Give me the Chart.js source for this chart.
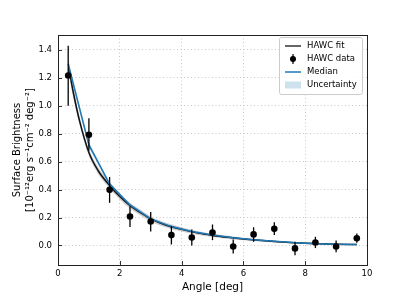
<!DOCTYPE html>
<html>
<head>
<meta charset="utf-8">
<script src="https://cdn.jsdelivr.net/npm/chart.js@4"></script>
<style>
  body { margin: 0; background: #fff; }
  canvas { display: block; }
</style>
</head>
<body>
<canvas id="chart" width="399" height="299"></canvas>
<script>
// HAWC data points (angle in deg, surface brightness)
const angles = [0.33, 1.0, 1.67, 2.33, 3.0, 3.67, 4.33, 5.0, 5.67, 6.33, 7.0, 7.67, 8.33, 9.0, 9.67];
const brightness = [1.217, 0.793, 0.398, 0.207, 0.171, 0.074, 0.057, 0.093, -0.007, 0.079, 0.119, -0.021, 0.021, -0.007, 0.052];
const errHigh = [1.43, 0.91, 0.49, 0.28, 0.24, 0.14, 0.115, 0.15, 0.043, 0.13, 0.167, 0.026, 0.062, 0.036, 0.086];
const errLow = [1.00, 0.68, 0.305, 0.133, 0.10, 0.007, 0.0, 0.038, -0.057, 0.026, 0.074, -0.071, -0.019, -0.048, 0.019];

// HAWC fit curve + grey band
const fitX = [0.35, 0.5, 0.7, 1.0, 1.3, 1.67, 2.0, 2.33, 2.67, 3.0, 3.5, 4.0, 4.5, 5.0, 5.5, 6.0, 6.5, 7.0, 7.5, 8.0, 8.5, 9.0, 9.67];
const fitY = [1.27, 1.09, 0.89, 0.665, 0.535, 0.43, 0.35, 0.285, 0.235, 0.19, 0.145, 0.115, 0.09, 0.072, 0.058, 0.046, 0.037, 0.029, 0.022, 0.016, 0.012, 0.009, 0.006];
const fitLow = [1.22, 1.05, 0.86, 0.64, 0.51, 0.408, 0.328, 0.265, 0.215, 0.172, 0.128, 0.099, 0.076, 0.06, 0.047, 0.037, 0.029, 0.022, 0.016, 0.011, 0.008, 0.006, 0.004];
const fitHigh = [1.32, 1.13, 0.92, 0.69, 0.56, 0.455, 0.372, 0.305, 0.255, 0.208, 0.162, 0.131, 0.104, 0.084, 0.069, 0.055, 0.045, 0.036, 0.028, 0.021, 0.016, 0.012, 0.008];

// median model + uncertainty
const medY = [1.30, 0.72, 0.44, 0.29, 0.19, 0.135, 0.10, 0.075, 0.055, 0.04, 0.03, 0.02, 0.013, 0.009, 0.006];
const medLow = [1.27, 0.70, 0.425, 0.28, 0.183, 0.129, 0.095, 0.071, 0.052, 0.037, 0.028, 0.018, 0.011, 0.007, 0.004];
const medHigh = [1.33, 0.74, 0.455, 0.30, 0.197, 0.141, 0.105, 0.079, 0.058, 0.043, 0.032, 0.022, 0.015, 0.011, 0.008];

const xTicks = [0, 2, 4, 6, 8, 10];
const yTicks = [0.0, 0.2, 0.4, 0.6, 0.8, 1.0, 1.2, 1.4];

const FONT = "'DejaVu Sans', sans-serif";
const pts = (xs, ys) => xs.map((x, i) => ({ x: x, y: ys[i] }));

// barres d'erreur, cadre et ticks vers l'intérieur
const extras = {
  id: 'extras',
  afterDatasetsDraw(chart) {
    const ctx = chart.ctx;
    const xs = chart.scales.x, ys = chart.scales.y;
    ctx.save();
    ctx.strokeStyle = '#000';
    ctx.lineWidth = 1.3;
    angles.forEach((a, i) => {
      const px = xs.getPixelForValue(a);
      ctx.beginPath();
      ctx.moveTo(px, ys.getPixelForValue(errHigh[i]));
      ctx.lineTo(px, ys.getPixelForValue(errLow[i]));
      ctx.stroke();
    });
    ctx.restore();
  },
  afterDraw(chart) {
    const ctx = chart.ctx;
    const a = chart.chartArea;
    const xs = chart.scales.x, ys = chart.scales.y;
    ctx.save();
    ctx.strokeStyle = '#000';
    ctx.lineWidth = 0.8;
    xTicks.forEach(v => {
      const px = Math.round(xs.getPixelForValue(v)) + 0.5;
      ctx.beginPath();
      ctx.moveTo(px, a.bottom);
      ctx.lineTo(px, a.bottom - 4);
      ctx.stroke();
    });
    yTicks.forEach(v => {
      const py = Math.round(ys.getPixelForValue(v)) + 0.5;
      ctx.beginPath();
      ctx.moveTo(a.left, py);
      ctx.lineTo(a.left + 4, py);
      ctx.stroke();
    });
    ctx.lineWidth = 1;
    ctx.strokeStyle = '#222';
    ctx.strokeRect(a.left + 0.5, a.top + 0.5, a.right - a.left, a.bottom - a.top);

    // légende
    const lx = 279, ly = 37, lw = 83, lh = 57;
    ctx.fillStyle = 'rgba(255,255,255,0.9)';
    ctx.strokeStyle = '#cccccc';
    ctx.lineWidth = 1;
    ctx.beginPath();
    ctx.roundRect(lx + 0.5, ly + 0.5, lw, lh, 2);
    ctx.fill();
    ctx.stroke();
    const rows = [46, 59, 72, 85];
    const hx0 = 285, hx1 = 301;
    ctx.lineWidth = 1.5;
    ctx.strokeStyle = '#333';
    ctx.beginPath(); ctx.moveTo(hx0, rows[0]); ctx.lineTo(hx1, rows[0]); ctx.stroke();
    ctx.fillStyle = '#000';
    ctx.beginPath(); ctx.arc((hx0 + hx1) / 2, rows[1], 3, 0, Math.PI * 2); ctx.fill();
    ctx.lineWidth = 1.2; ctx.strokeStyle = '#000';
    ctx.beginPath(); ctx.moveTo((hx0 + hx1) / 2, rows[1] - 5); ctx.lineTo((hx0 + hx1) / 2, rows[1] + 5); ctx.stroke();
    ctx.lineWidth = 1.5; ctx.strokeStyle = '#1f77b4';
    ctx.beginPath(); ctx.moveTo(hx0, rows[2]); ctx.lineTo(hx1, rows[2]); ctx.stroke();
    ctx.fillStyle = 'rgba(31,119,180,0.22)';
    ctx.fillRect(hx0, rows[3] - 3.5, hx1 - hx0, 7);
    ctx.fillStyle = '#000';
    ctx.font = '8.5px ' + FONT;
    ctx.textBaseline = 'middle';
    ['HAWC fit', 'HAWC data', 'Median', 'Uncertainty'].forEach((t, i) => ctx.fillText(t, 307, rows[i]));
    ctx.restore();
  }
};

new Chart(document.getElementById('chart'), {
  type: 'line',
  data: {
    datasets: [
      { data: pts(fitX, fitLow), borderWidth: 0, pointRadius: 0, fill: false, cubicInterpolationMode: 'monotone', order: 6 },
      { data: pts(fitX, fitHigh), borderWidth: 0, pointRadius: 0, fill: '-1', backgroundColor: 'rgba(120,120,120,0.35)', cubicInterpolationMode: 'monotone', order: 5 },
      { data: pts(fitX, fitY), borderColor: '#111', borderWidth: 1.5, pointRadius: 0, cubicInterpolationMode: 'monotone', order: 4 },
      { data: pts(angles, medLow), borderWidth: 0, pointRadius: 0, fill: false, order: 3 },
      { data: pts(angles, medHigh), borderWidth: 0, pointRadius: 0, fill: '-1', backgroundColor: 'rgba(31,119,180,0.22)', order: 2 },
      { data: pts(angles, medY), borderColor: '#1f77b4', borderWidth: 1.5, pointRadius: 0, order: 1 },
      { data: pts(angles, brightness), showLine: false, pointRadius: 3.3, pointBackgroundColor: '#000', pointBorderWidth: 0, order: 0 }
    ]
  },
  options: {
    responsive: false,
    animation: false,
    layout: { padding: { left: 0, right: 32, top: 35, bottom: 0 } },
    plugins: { legend: { display: false }, tooltip: { enabled: false } },
    scales: {
      x: {
        type: 'linear', min: 0, max: 10,
        afterBuildTicks: s => { s.ticks = xTicks.map(v => ({ value: v })); },
        afterFit: s => { s.height = 34; },
        grid: { color: '#b8b8b8', lineWidth: 0.8, drawTicks: false },
        border: { display: false, dash: [1, 2.5] },
        ticks: { color: '#000', font: { family: FONT, size: 8.5 }, padding: 4, maxRotation: 0 },
        title: { display: true, text: 'Angle [deg]', color: '#000', font: { family: FONT, size: 10.5 }, padding: { bottom: 5 } }
      },
      y: {
        min: -0.14, max: 1.507,
        afterBuildTicks: s => { s.ticks = yTicks.map(v => ({ value: v })); },
        afterFit: s => { s.width = 58; },
        grid: { color: '#b8b8b8', lineWidth: 0.8, drawTicks: false },
        border: { display: false, dash: [1, 2.5] },
        ticks: { color: '#000', font: { family: FONT, size: 8.5 }, padding: 6, callback: v => v.toFixed(1) },
        title: {
          display: true,
          text: ['Surface Brightness', '[10⁻¹²erg s⁻¹cm⁻² deg⁻²]'],
          color: '#000',
          font: { family: FONT, size: 10, lineHeight: '13px' },
          padding: { top: 10.5 }
        }
      }
    }
  },
  plugins: [extras]
});
</script>
</body>
</html>
